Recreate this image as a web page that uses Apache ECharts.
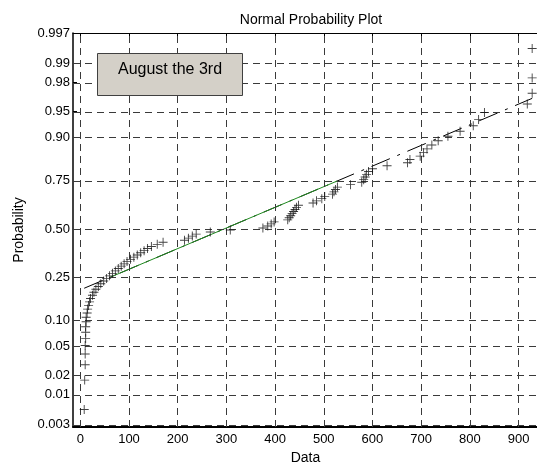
<!DOCTYPE html>
<html>
<head>
<meta charset="utf-8">
<script src="https://cdn.jsdelivr.net/npm/echarts@6/dist/echarts.min.js"></script>
<style>html,body{margin:0;padding:0;background:#fff;}#c{width:537px;height:463px;}</style>
</head>
<body>
<div id="c"></div>
<script>
const dataValues = [
  8, 9, 10, 10, 10, 11, 11, 11, 12, 12,
  14, 15, 17, 19, 21, 25, 28, 32, 37, 42,
  48, 54, 60, 66, 72, 78, 84, 90, 96, 103,
  110, 117, 124, 131, 138, 146, 158, 170, 214, 222,
  230, 238, 267, 308, 375, 385, 392, 398, 426, 429,
  432, 435, 438, 441, 444, 448, 478, 485, 496, 502,
  518, 521, 524, 528, 555, 578, 582, 585, 588, 592,
  600, 630, 672, 677, 698, 705, 712, 722, 735, 755,
  780, 807, 818, 830, 918, 928, 928, 928
];
// Reference line (data values at the 25% and 75% probability levels)
const fitQ1 = 62;
const fitQ3 = 528;
// Tick labels
const xTicks = [0, 100, 200, 300, 400, 500, 600, 700, 800, 900];
const probTicks = [0.003, 0.01, 0.02, 0.05, 0.10, 0.25, 0.50, 0.75, 0.90, 0.95, 0.98, 0.99, 0.997];
const probTickLabels = ['0.003', '0.01', '0.02', '0.05', '0.10', '0.25', '0.50', '0.75', '0.90', '0.95', '0.98', '0.99', '0.997'];
const titleText = 'Normal Probability Plot';
const xName = 'Data';
const yName = 'Probability';
const noteText = 'August the 3rd';

// inverse standard normal CDF (Acklam) - probability axis transform
function norminv(p) {
  const a = [-3.969683028665376e+01, 2.209460984245205e+02, -2.759285104469687e+02, 1.383577518672690e+02, -3.066479806614716e+01, 2.506628277459239e+00];
  const b = [-5.447609879822406e+01, 1.615858368580409e+02, -1.556989798598866e+02, 6.680131188771972e+01, -1.328068155288572e+01];
  const c = [-7.784894002430293e-03, -3.223964580411365e-01, -2.400758277161838e+00, -2.549732539343734e+00, 4.374664141464968e+00, 2.938163982698783e+00];
  const d = [7.784695709041462e-03, 3.224671290700398e-01, 2.445134137142996e+00, 3.754408661907416e+00];
  const pl = 0.02425, ph = 1 - pl;
  let q, r;
  if (p < pl) {
    q = Math.sqrt(-2 * Math.log(p));
    return (((((c[0]*q+c[1])*q+c[2])*q+c[3])*q+c[4])*q+c[5]) / ((((d[0]*q+d[1])*q+d[2])*q+d[3])*q+1);
  } else if (p <= ph) {
    q = p - 0.5; r = q * q;
    return (((((a[0]*r+a[1])*r+a[2])*r+a[3])*r+a[4])*r+a[5])*q / (((((b[0]*r+b[1])*r+b[2])*r+b[3])*r+b[4])*r+1);
  } else {
    q = Math.sqrt(-2 * Math.log(1 - p));
    return -(((((c[0]*q+c[1])*q+c[2])*q+c[3])*q+c[4])*q+c[5]) / ((((d[0]*q+d[1])*q+d[2])*q+d[3])*q+1);
  }
}

const n = dataValues.length;
const points = dataValues.map((v, i) => [v, norminv((i + 0.5) / n)]);
const zTicks = probTicks.map(norminv);
const zq = norminv(0.75);
const mu = (fitQ1 + fitQ3) / 2;
const sigma = (fitQ3 - fitQ1) / (2 * zq);
const xMinD = Math.min(...dataValues), xMaxD = Math.max(...dataValues);
const fullLine = [[xMinD, (xMinD - mu) / sigma], [xMaxD, (xMaxD - mu) / sigma]];
const midLine = [[fitQ1, -zq], [fitQ3, zq]];

const plusPath = 'path://M0,4.5L10,4.5L10,5.5L0,5.5Z M4.5,0L5.5,0L5.5,10L4.5,10Z';
const FONT = 'Liberation Sans, Arial, sans-serif';
const gridLine = { type: [7, 5], color: '#3a3a3a', width: 1 };

const chart = echarts.init(document.getElementById('c'), null, { renderer: 'canvas' });
chart.setOption({
  animation: false,
  backgroundColor: '#fff',
  title: {
    text: titleText, left: 306, top: 8, textAlign: 'center',
    textStyle: { fontFamily: FONT, fontSize: 14, fontWeight: 'normal', color: '#000' }
  },
  grid: { left: 73, top: 33, right: -1, bottom: 36, containLabel: false, outerBoundsMode: 'none' },
  xAxis: [{
    type: 'value', min: -15, max: 940, position: 'bottom',
    name: xName, nameLocation: 'middle', nameGap: 24,
    nameTextStyle: { fontFamily: FONT, fontSize: 14, color: '#000' },
    axisLine: { show: true, onZero: false, lineStyle: { color: '#000', width: 2 } },
    axisTick: { show: true, inside: true, length: 4, customValues: xTicks, lineStyle: { color: '#000' } },
    axisLabel: { customValues: xTicks, fontFamily: FONT, fontSize: 13, color: '#000', margin: 6 },
    splitLine: { show: false }
  }, {
    type: 'value', min: -15, max: 940, position: 'top',
    axisLine: { show: true, onZero: false, lineStyle: { color: '#000', width: 1 } },
    axisTick: { show: true, inside: true, length: 4, customValues: xTicks, lineStyle: { color: '#000' } },
    axisLabel: { show: false },
    splitLine: { show: false }
  }],
  yAxis: {
    type: 'value', min: -2.777, max: 2.749,
    name: yName, nameLocation: 'middle', nameGap: 45, nameRotate: 90,
    nameTextStyle: { fontFamily: FONT, fontSize: 14, color: '#000' },
    axisLine: { show: true, onZero: false, lineStyle: { color: '#000', width: 1.5 } },
    axisTick: { show: true, inside: true, length: 4, customValues: zTicks, lineStyle: { color: '#000' } },
    axisLabel: {
      customValues: zTicks, fontFamily: FONT, fontSize: 13, color: '#000', margin: 3,
      formatter: function (v) {
        let best = 0, bd = Infinity;
        zTicks.forEach((z, i) => { const dd = Math.abs(z - v); if (dd < bd) { bd = dd; best = i; } });
        return probTickLabels[best];
      }
    },
    splitLine: { show: false }
  },
  series: [
    {
      type: 'line', data: [], silent: true, z: 1,
      markLine: {
        silent: true, symbol: ['none', 'none'], label: { show: false }, animation: false,
        lineStyle: gridLine,
        data: xTicks.map(v => ({ xAxis: v })).concat(zTicks.map(z => ({ yAxis: z })))
      }
    },
    {
      type: 'line', data: fullLine, symbol: 'none', silent: true, z: 3,
      lineStyle: { color: '#000', width: 1, type: [20, 8, 3, 8] }
    },
    {
      type: 'line', data: midLine, symbol: 'none', silent: true, z: 4,
      lineStyle: { color: '#1f8a1f', width: 1 }
    },
    {
      type: 'scatter', data: points, symbol: plusPath, symbolSize: 9, silent: true, z: 5,
      itemStyle: { color: '#111' }
    }
  ],
  graphic: [
    {
      type: 'rect', left: 97, top: 53, z: 100,
      shape: { width: 145, height: 42 },
      style: { fill: '#d4d0c8', stroke: '#404040', lineWidth: 1 }
    },
    {
      type: 'text', left: 118, top: 62, z: 101,
      style: { text: noteText, fontFamily: FONT, fontSize: 16, fill: '#000' }
    }
  ]
});
</script>
</body>
</html>
